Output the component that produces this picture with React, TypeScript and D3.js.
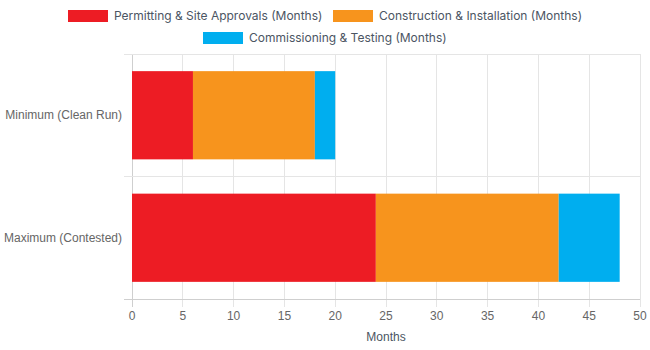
import { useEffect, useRef } from 'react';
import * as d3 from 'd3';

const categories = ['Minimum (Clean Run)', 'Maximum (Contested)'];
const seriesNames = [
  'Permitting & Site Approvals (Months)',
  'Construction & Installation (Months)',
  'Commissioning & Testing (Months)',
];
const permitting = [6, 24];
const construction = [12, 18];
const commissioning = [2, 6];
const colors = ['#ED1C24', '#F7941D', '#00AEEF'];
const xTicks = [0, 5, 10, 15, 20, 25, 30, 35, 40, 45, 50];

export default function App() {
  const svgRef = useRef<SVGSVGElement>(null);

  useEffect(() => {
    document.body.style.margin = '0';
    if (!svgRef.current) return;
    const svg = d3.select(svgRef.current);
    svg.selectAll('*').remove();

    const tickFont = '"Liberation Sans", Arial, sans-serif';
    const legFont = 'Inter, "Noto Sans", sans-serif';
    const m = { t: 54, r: 10, b: 51, l: 132 };
    const w = 650, h = 350;
    const iw = w - m.l - m.r, ih = h - m.t - m.b;

    const x = d3.scaleLinear().domain([0, 50]).range([0, iw]);
    const y = d3.scaleBand().domain(categories).range([0, ih]).paddingInner(0).paddingOuter(0);
    const barH = y.bandwidth() * 0.72;

    const g = svg.append('g').attr('transform', `translate(${m.l},${m.t})`);

    // vertical grid + tick marks
    xTicks.forEach(t => {
      g.append('line').attr('x1', x(t)).attr('x2', x(t)).attr('y1', 0).attr('y2', ih + 8)
        .attr('stroke', t === 0 ? '#cfcfcf' : '#e5e5e5').attr('stroke-width', 1).attr('shape-rendering', 'crispEdges');
      g.append('text').attr('x', x(t)).attr('y', ih + 21).attr('text-anchor', 'middle')
        .attr('font-family', tickFont).attr('font-size', 12).attr('fill', '#666').text(t);
    });

    // horizontal grid at category boundaries
    [0, 1, 2].forEach(i => {
      const yy = i * y.bandwidth();
      g.append('line').attr('x1', -8).attr('x2', iw).attr('y1', yy).attr('y2', yy)
        .attr('stroke', i === 2 ? '#cfcfcf' : '#e5e5e5').attr('stroke-width', 1).attr('shape-rendering', 'crispEdges');
    });

    // stacked bars
    const rows = categories.map((c, i) => ({ cat: c, p: permitting[i], c2: construction[i], m: commissioning[i] }));
    const stack = d3.stack<typeof rows[0]>().keys(['p', 'c2', 'm'])(rows);
    stack.forEach((layer, li) => {
      g.selectAll(null).data(layer).enter().append('rect')
        .attr('x', d => x(d[0]))
        .attr('width', d => x(d[1]) - x(d[0]))
        .attr('y', d => (y(d.data.cat) as number) + (y.bandwidth() - barH) / 2)
        .attr('height', barH)
        .attr('fill', colors[li]);
    });

    // y labels
    categories.forEach(c => {
      g.append('text').attr('x', -10).attr('y', (y(c) as number) + y.bandwidth() / 2).attr('dy', '0.35em')
        .attr('text-anchor', 'end').attr('font-family', tickFont).attr('font-size', 12).attr('fill', '#666').text(c);
    });

    // x title
    g.append('text').attr('x', iw / 2).attr('y', ih + 42).attr('text-anchor', 'middle')
      .attr('font-family', tickFont).attr('font-size', 12).attr('fill', '#4b5563').text('Months');

    // legend
    const leg = svg.append('g');
    const items = [
      { x: 68, y: 10, i: 0 },
      { x: 333, y: 10, i: 1 },
      { x: 203, y: 32, i: 2 },
    ];
    items.forEach(it => {
      leg.append('rect').attr('x', it.x).attr('y', it.y).attr('width', 40).attr('height', 12).attr('fill', colors[it.i]);
      leg.append('text').attr('x', it.x + 46).attr('y', it.y + 6).attr('dy', '0.35em')
        .attr('font-family', legFont).attr('font-size', 12).attr('fill', '#4b5563').text(seriesNames[it.i]);
    });
  }, []);

  return <svg ref={svgRef} width={650} height={350} style={{ display: 'block' }} />;
}
